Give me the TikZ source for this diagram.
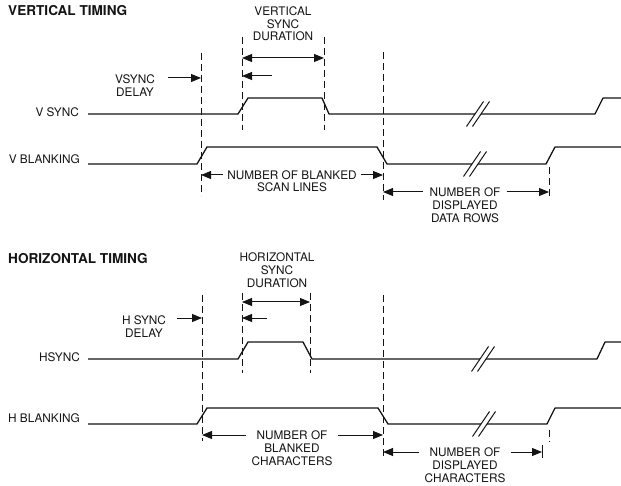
\documentclass[tikz,border=0pt]{standalone}
\usepackage{fontspec}
\setmainfont{TeX Gyre Heros}
\usepackage{xcolor}
\usetikzlibrary{arrows.meta}
\definecolor{timingink}{HTML}{141414}

\newcommand{\sigbreak}[2]{%
  \begin{scope}[shift={(#1,#2)}]
    \fill[white] (-11.5,12.5) -- (5.5,-12.5) -- (11.5,-12.5) -- (-5.5,12.5) -- cycle;
    \draw[timingink, line width=1pt] (-11.5,12.5) -- (5.5,-12.5);
    \draw[timingink, line width=1pt] (-5.5,12.5) -- (11.5,-12.5);
  \end{scope}}

\begin{document}
\begin{tikzpicture}[
  x=1pt,
  y=-1pt,
  every node/.style={font=\fontsize{11.8}{12.8}\selectfont, text=timingink, inner sep=0pt},
  heading/.style={font=\fontsize{13.6}{15}\selectfont\bfseries, anchor=west},
  sig/.style={timingink, line width=1.3pt, line join=round},
  guide/.style={timingink, line width=1pt, dash pattern=on 7pt off 4pt},
  dim/.style={timingink, line width=1pt, -{Triangle[length=10pt,width=8pt]}},
  dimboth/.style={timingink, line width=1pt, {Triangle[length=10pt,width=8pt]}-{Triangle[length=10pt,width=8pt]}},
  lbl/.style={align=center, anchor=north}
]
  \useasboundingbox (0,0) rectangle (621,486);

  % vertical timing
  \node[heading] (vtitle) at (8,10.5) {VERTICAL TIMING};
  \node[lbl] (vdur) at (283,6.3) {VERTICAL\\SYNC\\DURATION};
  \node[lbl] (vdelay) at (135,74.3) {VSYNC\\DELAY};
  \node[anchor=east] (vsynclbl) at (79,112) {V SYNC};
  \node[anchor=east] (vblanklbl) at (80,159) {V BLANKING};

  \draw[guide] (201,53) -- (201,196);
  \draw[guide] (242,37) -- (242,130);
  \draw[guide] (324,37) -- (324,130);
  \draw[guide] (383,52) -- (383,200);
  \draw[guide] (549,167) -- (549,198);

  \draw[dimboth] (242,58) -- (324,58);
  \draw[dim] (272,76) -- (242,76);
  \draw[dim] (168,78) -- (201,78);

  \draw[sig] (88,114) -- (238,114) -- (248,98) -- (322,98) -- (329,114)
    -- (595,114) -- (603,98) -- (621,98);
  \draw[sig] (88,164) -- (197,164) -- (207,147) -- (377,147) -- (387,164)
    -- (546,164) -- (555,147) -- (621,147);
  \sigbreak{478}{114}
  \sigbreak{475}{164}

  \node[fill=white, inner xsep=4pt] (vblankhead) at (292,175) {NUMBER OF BLANKED};
  \node[lbl] (vblanktail) at (292,182.8) {SCAN LINES};
  \draw[dim] (vblankhead.west) -- (201,175);
  \draw[dim] (vblankhead.east) -- (383,175);

  \node[fill=white, inner xsep=6pt] (vshowhead) at (465,192) {NUMBER OF};
  \node[lbl] (vshowtail) at (465,200.8) {DISPLAYED\\DATA ROWS};
  \draw[dim] (vshowhead.west) -- (383,192);
  \draw[dim] (vshowhead.east) -- (549,192);

  % horizontal timing
  \node[heading] (htitle) at (8,259) {HORIZONTAL TIMING};
  \node[lbl] (hdur) at (277,252.8) {HORIZONTAL\\SYNC\\DURATION};
  \node[lbl] (hdelay) at (144,315.8) {H SYNC\\DELAY};
  \node[anchor=east] (hsynclbl) at (80,357) {HSYNC};
  \node[anchor=east] (hblanklbl) at (80,418) {H BLANKING};

  \draw[guide] (202,295) -- (202,441);
  \draw[guide] (242,293) -- (242,373);
  \draw[guide] (310,293) -- (310,373);
  \draw[guide] (383,295) -- (383,458);
  \draw[guide] (549,430) -- (549,442);
  \draw[timingink, line width=1pt] (542,445) -- (542,458);

  \draw[dimboth] (242,302) -- (310,302);
  \draw[dim] (267,318) -- (242,318);
  \draw[dim] (177,318) -- (202,318);

  \draw[sig] (88,359) -- (238,359) -- (248,342) -- (303,342) -- (312,359)
    -- (597,359) -- (605,342) -- (621,342);
  \draw[sig] (88,424) -- (197,424) -- (207,408) -- (378,408) -- (388,424)
    -- (547,424) -- (555,408) -- (621,408);
  \sigbreak{483}{359}
  \sigbreak{484}{424}

  \node[fill=white, inner xsep=10pt] (hblankhead) at (292,435) {NUMBER OF};
  \node[lbl] (hblanktail) at (292,443.8) {BLANKED\\CHARACTERS};
  \draw[dim] (hblankhead.west) -- (202,435);
  \draw[dim] (hblankhead.east) -- (383,435);

  \node[fill=white, inner xsep=10pt] (hshowhead) at (465,452) {NUMBER OF};
  \node[lbl] (hshowtail) at (465,460.8) {DISPLAYED\\CHARACTERS};
  \draw[dim] (hshowhead.west) -- (383,452);
  \draw[dim] (hshowhead.east) -- (542,452);
\end{tikzpicture}
\end{document}
